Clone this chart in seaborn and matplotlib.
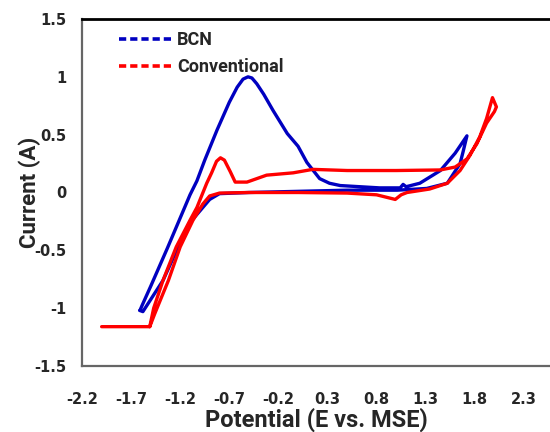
import matplotlib
matplotlib.use("Agg")
import matplotlib.pyplot as plt
from matplotlib.lines import Line2D
import seaborn as sns
import pandas as pd

# BCN cyclic voltammogram (closed loop, in scan order)
bcn_x = [-1.61, -1.59, -1.50, -1.33, -1.21, -1.10, -1.03, -0.95, -0.825, -0.70, -0.62, -0.56,
         -0.51, -0.47, -0.42, -0.35, -0.255, -0.11, 0.00, 0.09, 0.22, 0.32, 0.43, 0.83,
         1.04, 1.07, 1.10, 1.24, 1.45, 1.60, 1.72,
         1.68, 1.65, 1.52, 1.31, 1.01, 0.50, 0.00, -0.50, -0.80, -0.90, -1.00, -1.08,
         -1.22, -1.375, -1.58, -1.61]
bcn_y = [-1.02, -0.98, -0.81, -0.48, -0.24, -0.02, 0.10, 0.28, 0.54, 0.78, 0.91, 0.98,
         1.00, 0.99, 0.94, 0.85, 0.71, 0.51, 0.40, 0.26, 0.12, 0.08, 0.06, 0.04,
         0.04, 0.07, 0.05, 0.08, 0.19, 0.34, 0.49,
         0.35, 0.25, 0.08, 0.035, 0.02, 0.02, 0.01, 0.00, -0.01, -0.06, -0.16, -0.24,
         -0.47, -0.76, -1.03, -1.02]

# Conventional cyclic voltammogram
conv_x = [-2.00, -1.51, -1.46, -1.32, -1.20, -1.07, -0.97, -0.90, -0.80, -0.50, 0.00,
          0.50, 0.80, 0.99, 1.05, 1.11, 1.34, 1.52, 1.65, 1.75, 1.85, 1.92, 1.98,
          2.02, 2.00,
          1.92, 1.82, 1.72, 1.60, 1.45, 1.00, 0.50, 0.15, -0.05, -0.32, -0.52, -0.64,
          -0.69, -0.75, -0.79, -0.83, -0.88, -0.93, -1.03, -1.10, -1.24, -1.375,
          -1.47, -1.51]
conv_y = [-1.16, -1.16, -1.05, -0.76, -0.47, -0.24, -0.10, -0.03, -0.005, 0.00, 0.00,
          -0.005, -0.02, -0.06, -0.02, 0.00, 0.03, 0.08, 0.19, 0.32, 0.48, 0.64, 0.82,
          0.74, 0.70,
          0.60, 0.42, 0.29, 0.22, 0.195, 0.19, 0.19, 0.20, 0.17, 0.15, 0.09, 0.09,
          0.18, 0.28, 0.30, 0.27, 0.17, 0.08, -0.13, -0.24, -0.47, -0.76,
          -1.00, -1.16]

series_names = ["BCN", "Conventional"]
series_colors = ["#0000C0", "#FF0000"]

x_ticks = [-2.2, -1.7, -1.2, -0.7, -0.2, 0.3, 0.8, 1.3, 1.8, 2.3]
x_tick_labels = ["-2.2", "-1.7", "-1.2", "-0.7", "-0.2", "0.3", "0.8", "1.3", "1.8", "2.3"]
y_ticks = [-1.5, -1.0, -0.5, 0.0, 0.5, 1.0, 1.5]
y_tick_labels = ["-1.5", "-1", "-0.5", "0", "0.5", "1", "1.5"]

df = pd.concat([
    pd.DataFrame({"E": bcn_x, "I": bcn_y, "series": "BCN", "order": range(len(bcn_x))}),
    pd.DataFrame({"E": conv_x, "I": conv_y, "series": "Conventional", "order": range(len(conv_x))}),
], ignore_index=True)

sns.set_style("white")
fig = plt.figure(figsize=(5.5, 4.32), dpi=100)
ax = fig.add_axes([82 / 550, 1 - 366 / 432, 1 - 82 / 550, (366 - 19) / 432])

sns.lineplot(data=df, x="E", y="I", hue="series", units="series", estimator=None,
             sort=False, palette=dict(zip(series_names, series_colors)),
             hue_order=series_names, linewidth=2.4, ax=ax, legend=False)
for ln in ax.lines:
    ln.set_solid_joinstyle("round")

ax.set_xlim(-2.2, -2.2 + (550 - 82) / 98.2)
ax.set_ylim(-1.5, 1.5)
ax.set_xticks(x_ticks)
ax.set_xticklabels(x_tick_labels, fontsize=10.5, fontweight="bold", family="DejaVu Sans")
ax.set_yticks(y_ticks)
ax.set_yticklabels(y_tick_labels, fontsize=10.5, fontweight="bold", family="DejaVu Sans")
ax.tick_params(axis="x", direction="out", length=4, color="#999999", pad=15)
ax.tick_params(axis="y", direction="in", length=4, color="#999999", pad=11)

for s in ["left", "bottom"]:
    ax.spines[s].set_color("#666666")
    ax.spines[s].set_linewidth(1.6)
ax.spines["top"].set_color("black")
ax.spines["top"].set_linewidth(2.0)
ax.spines["right"].set_visible(False)

ax.set_xlabel("Potential (E vs. MSE)", fontsize=17, fontweight="bold", family="Roboto", labelpad=0)
ax.set_ylabel("Current (A)", fontsize=16, fontweight="bold", family="Roboto", labelpad=-5)

handles = [Line2D([0], [0], color=c, lw=2.6, linestyle=(0, (2.0, 1.1))) for c in series_colors]
ax.legend(handles, series_names, loc="upper left", bbox_to_anchor=(0.044, 1.011), frameon=False,
          handlelength=2.9, handletextpad=0.33, labelspacing=0.5,
          prop={"family": "Roboto", "weight": "bold", "size": 13})

fig.savefig("out.png", dpi=100)
